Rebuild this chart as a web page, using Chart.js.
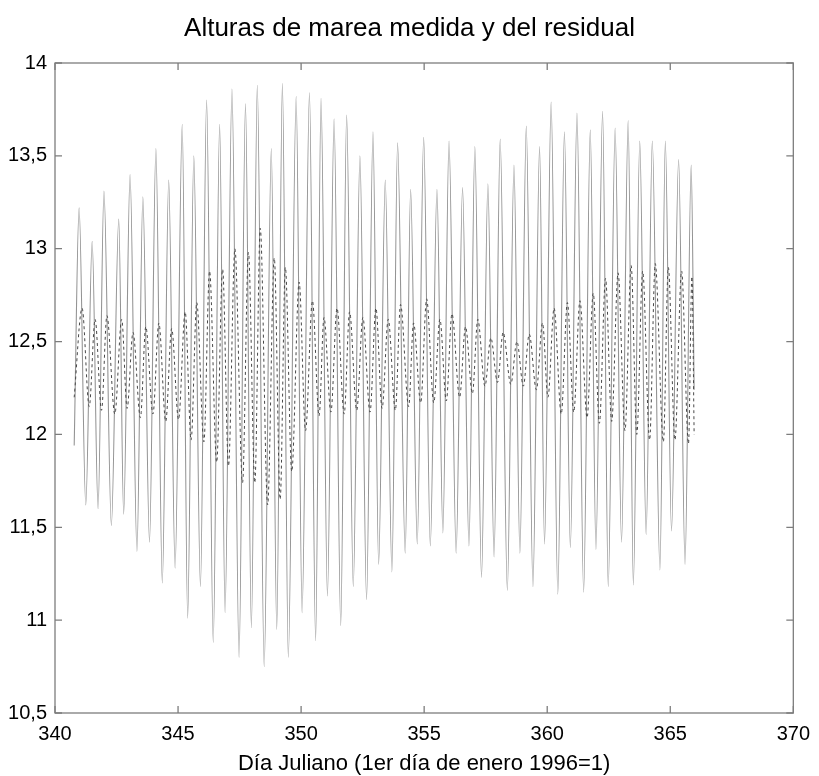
<!DOCTYPE html>
<html>
<head>
<meta charset="utf-8">
<script src="https://cdn.jsdelivr.net/npm/chart.js@4.4.1/dist/chart.umd.min.js"></script>
<style>
  html, body { margin: 0; padding: 0; background: #ffffff; }
  #wrap { width: 819px; height: 776px; }
</style>
</head>
<body>
<div id="wrap"><canvas id="c" width="819" height="776"></canvas></div>
<script>
// ---------- Texts ----------
const chartTitle = 'Alturas de marea medida y del residual';
const xAxisTitle = 'Día Juliano (1er día de enero 1996=1)';

// ---------- Ticks ----------
const xTickValues = [340, 345, 350, 355, 360, 365, 370];
const yTickValues = [10.5, 11, 11.5, 12, 12.5, 13, 13.5, 14];
const yTickLabels = ['10,5', '11', '11,5', '12', '12,5', '13', '13,5', '14'];

const measuredStart = [340.78, 11.94];
const measuredEnd = [365.97, 12.24];
const highDays = [340.98, 341.51, 341.99, 342.59, 343.05, 343.57, 344.10, 344.62, 345.17, 345.64,
  346.16, 346.69, 347.19, 347.74, 348.22, 348.79, 349.24, 349.80, 350.34, 350.81,
  351.34, 351.85, 352.39, 352.92, 353.42, 353.92, 354.45, 354.98, 355.52, 356.01,
  356.56, 357.06, 357.59, 358.09, 358.65, 359.15, 359.69, 360.16, 360.70, 361.21,
  361.75, 362.25, 362.76, 363.29, 363.76, 364.27, 364.80, 365.34, 365.85];
const highVals = [13.22, 13.04, 13.31, 13.16, 13.40, 13.28, 13.54, 13.37, 13.67, 13.50,
  13.80, 13.67, 13.86, 13.78, 13.88, 13.54, 13.89, 13.82, 13.84, 13.81,
  13.70, 13.72, 13.50, 13.63, 13.37, 13.57, 13.32, 13.60, 13.32, 13.58,
  13.33, 13.55, 13.35, 13.59, 13.45, 13.66, 13.55, 13.79, 13.63, 13.73,
  13.64, 13.74, 13.65, 13.69, 13.58, 13.58, 13.58, 13.48, 13.45];
const lowDays = [341.25, 341.75, 342.29, 342.79, 343.33, 343.84, 344.36, 344.88, 345.39, 345.91,
  346.43, 346.91, 347.48, 347.98, 348.50, 349.01, 349.48, 350.04, 350.59, 351.07,
  351.61, 352.12, 352.66, 353.15, 353.69, 354.23, 354.72, 355.25, 355.76, 356.30,
  356.82, 357.33, 357.84, 358.38, 358.89, 359.42, 359.89, 360.43, 360.94, 361.48,
  361.98, 362.48, 363.02, 363.50, 364.02, 364.58, 365.05, 365.60];
const lowVals = [11.62, 11.60, 11.51, 11.57, 11.37, 11.42, 11.20, 11.28, 11.01, 11.18,
  10.88, 11.04, 10.80, 10.96, 10.75, 10.95, 10.80, 11.04, 10.89, 11.13,
  10.97, 11.18, 11.11, 11.30, 11.26, 11.36, 11.41, 11.40, 11.47, 11.36,
  11.40, 11.23, 11.34, 11.16, 11.36, 11.18, 11.41, 11.14, 11.39, 11.15,
  11.38, 11.18, 11.42, 11.19, 11.46, 11.27, 11.48, 11.30];

// ---------- Residual (successive extremes) ----------
const residualDays = [340.78, 341.10, 341.39, 341.63, 341.89, 342.11, 342.43, 342.71, 342.93, 343.17,
  343.47, 343.69, 343.98, 344.22, 344.50, 344.74, 345.02, 345.29, 345.53, 345.76,
  346.05, 346.28, 346.57, 346.81, 347.05, 347.31, 347.62, 347.86, 348.12, 348.34,
  348.64, 348.91, 349.15, 349.36, 349.62, 349.92, 350.18, 350.46, 350.73, 350.93,
  351.21, 351.46, 351.75, 351.97, 352.26, 352.51, 352.80, 353.04, 353.29, 353.54,
  353.83, 354.04, 354.37, 354.57, 354.86, 355.10, 355.39, 355.64, 355.90, 356.13,
  356.44, 356.68, 356.96, 357.18, 357.47, 357.71, 357.98, 358.21, 358.52, 358.77,
  359.03, 359.27, 359.56, 359.81, 360.03, 360.28, 360.57, 360.82, 361.08, 361.33,
  361.62, 361.87, 362.12, 362.37, 362.62, 362.88, 363.16, 363.41, 363.64, 363.88,
  364.16, 364.39, 364.72, 364.92, 365.19, 365.46, 365.74, 365.88, 365.97];
const residualVals = [12.20, 12.68, 12.15, 12.62, 12.13, 12.64, 12.11, 12.62, 12.14, 12.55,
  12.09, 12.58, 12.11, 12.60, 12.07, 12.57, 12.08, 12.66, 11.97, 12.71,
  11.96, 12.88, 11.85, 12.89, 11.83, 13.00, 11.74, 12.98, 11.74, 13.11,
  11.62, 12.95, 11.65, 12.90, 11.80, 12.82, 12.02, 12.72, 12.10, 12.63,
  12.12, 12.68, 12.11, 12.66, 12.13, 12.63, 12.12, 12.68, 12.14, 12.62,
  12.13, 12.70, 12.15, 12.60, 12.17, 12.73, 12.17, 12.62, 12.18, 12.65,
  12.20, 12.58, 12.22, 12.62, 12.26, 12.52, 12.28, 12.55, 12.27, 12.50,
  12.26, 12.54, 12.24, 12.60, 12.20, 12.68, 12.11, 12.71, 12.12, 12.72,
  12.09, 12.76, 12.06, 12.84, 12.07, 12.87, 12.02, 12.91, 12.00, 12.88,
  11.97, 12.92, 11.96, 12.90, 11.97, 12.88, 11.95, 12.85, 12.00];

// ---------- Build point lists ----------
const measuredPts = [{x: measuredStart[0], y: measuredStart[1]}];
highDays.forEach((d, i) => measuredPts.push({x: d, y: highVals[i]}));
lowDays.forEach((d, i) => measuredPts.push({x: d, y: lowVals[i]}));
measuredPts.push({x: measuredEnd[0], y: measuredEnd[1]});
measuredPts.sort((a, b) => a.x - b.x);
const residualPts = residualDays.map((d, i) => ({x: d, y: residualVals[i]}));

const FONT = "'Liberation Sans', Arial, Helvetica, sans-serif";
const AXIS_COLOR = '#7d7d7d';

const framePlugin = {
  id: 'frame',
  afterDraw(chart) {
    const {ctx, chartArea: a, scales: {x, y}} = chart;
    ctx.save();
    ctx.strokeStyle = AXIS_COLOR;
    ctx.lineWidth = 1.3;
    ctx.strokeRect(a.left, a.top, a.right - a.left, a.bottom - a.top);
    const tl = 7;
    ctx.beginPath();
    xTickValues.forEach(v => {
      const px = x.getPixelForValue(v);
      ctx.moveTo(px, a.bottom); ctx.lineTo(px, a.bottom - tl);
      ctx.moveTo(px, a.top); ctx.lineTo(px, a.top + tl);
    });
    yTickValues.forEach(v => {
      const py = y.getPixelForValue(v);
      ctx.moveTo(a.left, py); ctx.lineTo(a.left + tl, py);
      ctx.moveTo(a.right, py); ctx.lineTo(a.right - tl, py);
    });
    ctx.stroke();
    // chart title, centred on the figure
    ctx.fillStyle = '#000';
    ctx.font = '26px ' + FONT;
    ctx.textAlign = 'center';
    ctx.textBaseline = 'middle';
    ctx.fillText(chartTitle, chart.width / 2, 29);
    ctx.restore();
  }
};

new Chart(document.getElementById('c'), {
  type: 'line',
  data: {
    datasets: [
      {
        label: 'Residual',
        data: residualPts,
        borderColor: '#484848',
        borderWidth: 1,
        borderDash: [3, 3],
        pointRadius: 0,
        cubicInterpolationMode: 'monotone',
        fill: false
      },
      {
        label: 'Medida',
        data: measuredPts,
        borderColor: '#949494',
        borderWidth: 1.1,
        pointRadius: 0,
        cubicInterpolationMode: 'monotone',
        fill: false
      }
    ]
  },
  options: {
    responsive: false,
    animation: false,
    devicePixelRatio: 1,
    layout: { padding: { top: 63, right: 22, left: 0, bottom: 0 } },
    plugins: {
      legend: { display: false },
      title: { display: false },
      tooltip: { enabled: false }
    },
    scales: {
      x: {
        type: 'linear',
        min: 340, max: 370,
        afterBuildTicks: s => { s.ticks = xTickValues.map(v => ({value: v})); },
        afterFit: s => { s.height = 63; },
        grid: { display: false, drawTicks: false },
        border: { display: false },
        ticks: {
          padding: 9, autoSkip: false, maxRotation: 0, color: '#000',
          font: { size: 20, family: FONT },
          callback: v => String(v)
        },
        title: {
          display: true, text: xAxisTitle, color: '#000',
          font: { size: 22, family: FONT, lineHeight: 1.1 },
          padding: { top: 0, bottom: 0 }
        }
      },
      y: {
        type: 'linear',
        min: 10.5, max: 14,
        afterBuildTicks: s => { s.ticks = yTickValues.map(v => ({value: v})); },
        afterFit: s => { s.width = 55; },
        grid: { display: false, drawTicks: false },
        border: { display: false },
        ticks: {
          padding: 8, autoSkip: false, color: '#000',
          font: { size: 20, family: FONT },
          callback: (v, i) => yTickLabels[yTickValues.indexOf(v)]
        }
      }
    }
  },
  plugins: [framePlugin]
});
</script>
</body>
</html>
